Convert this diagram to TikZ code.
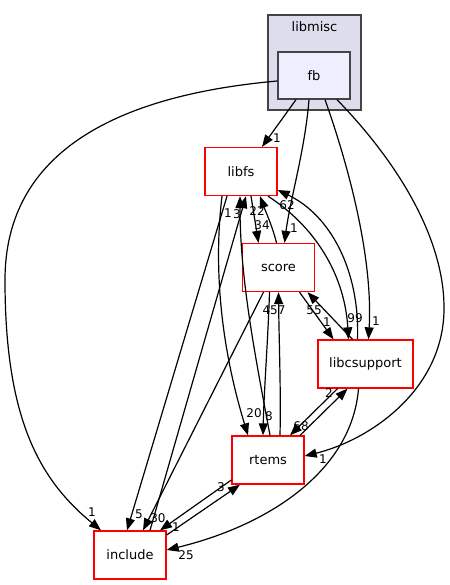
\documentclass[tikz,border=0pt]{standalone}
\usepackage{fontspec}
\setmainfont{DejaVu Sans}
\usetikzlibrary{arrows.meta}
\definecolor{clfill}{HTML}{DDDDEE}
\definecolor{clline}{HTML}{444444}
\definecolor{fbfill}{HTML}{EEEEFF}
\definecolor{dirred}{HTML}{FF0000}
\tikzset{
  dirbox/.style={draw=dirred, line width=1.3pt, fill=white, minimum width=72pt, minimum height=48pt, inner sep=0pt, font=\fontsize{13}{15}\selectfont},
  fbbox/.style={draw=clline, line width=1.3pt, fill=fbfill, minimum width=72pt, minimum height=47pt, inner sep=0pt, font=\fontsize{13}{15}\selectfont},
  dep/.style={line width=1.2pt, -{Triangle[length=12pt,width=9pt]}},
  lbl/.style={inner sep=0pt, font=\fontsize{12}{14}\selectfont}
}
\begin{document}
\begin{tikzpicture}[x=1pt,y=-1pt]
\useasboundingbox (0,0) rectangle (449,585);
% cluster
\node[draw=clline, line width=1.3pt, fill=clfill, minimum width=93pt, minimum height=95pt, inner sep=0pt] (libmisc) at (314.5,62.5) {};
\node[inner sep=0pt, font=\fontsize{13}{15}\selectfont] (libmisclbl) at (314.5,27) {libmisc};
\node[fbbox] (fb) at (314,75.5) {fb};
\node[dirbox] (libfs) at (241,171.5) {libfs};
\node[dirbox] (score) at (278.5,267.5) {score};
\node[dirbox, minimum width=95pt] (libcsupport) at (365.5,364) {libcsupport};
\node[dirbox] (rtems) at (268,460) {rtems};
\node[dirbox] (include) at (130,555) {include};

% fb edges
\draw[dep] ([xshift=-18pt]fb.south) -- ([xshift=21pt]libfs.north);
\draw[dep] ([xshift=-5pt]fb.south) .. controls (305,150) and (290,200) .. ([xshift=6pt]score.north);
\draw[dep] ([xshift=11pt]fb.south) .. controls (350,170) and (373,260) .. ([xshift=3pt]libcsupport.north);
\draw[dep] ([xshift=23pt]fb.south) .. controls (410,175) and (445,250) .. (444,310) .. controls (443,390) and (370,440) .. ([yshift=4pt]rtems.east);
\draw[dep] ([yshift=-5.5pt]fb.west) .. controls (120,95) and (5,150) .. (5,280) .. controls (5,420) and (40,480) .. ([xshift=-29pt]include.north);

% libfs edges
\draw[dep] ([xshift=10pt]libfs.south) -- ([xshift=-20pt]score.north);
\draw[dep] ([xshift=27pt]libfs.south) .. controls (320,230) and (345,280) .. ([xshift=-17pt]libcsupport.north);
\draw[dep] ([xshift=-19pt]libfs.south) .. controls (212,280) and (225,360) .. ([xshift=-20pt]rtems.north);
\draw[dep] ([xshift=-14pt]libfs.south) -- ([xshift=-3pt]include.north);

% score edges
\draw[dep] ([xshift=-2pt]score.north) .. controls (272,225) and (265,210) .. ([xshift=19pt]libfs.south);
\draw[dep] ([xshift=21pt]score.south) -- ([xshift=-32pt]libcsupport.north);
\draw[dep] ([xshift=-9pt]score.south) .. controls (268,340) and (264,390) .. ([xshift=-5pt]rtems.north);
\draw[dep] ([xshift=-15pt]score.south) -- ([xshift=13pt]include.north);

% libcsupport edges
\draw[dep] ([xshift=-8pt]libcsupport.north) .. controls (360,270) and (330,215) .. ([yshift=-18.5pt]libfs.east);
\draw[dep] ([xshift=-13pt]libcsupport.north) -- ([xshift=29pt]score.south);
\draw[dep] ([xshift=-28pt]libcsupport.south) -- ([xshift=22pt]rtems.north);
\draw[dep] ([xshift=-7pt]libcsupport.south) .. controls (352,470) and (270,525) .. ([yshift=5pt]include.east);

% rtems edges
\draw[dep] ([xshift=2pt]rtems.north) .. controls (256,360) and (240,280) .. ([xshift=-1pt]libfs.south);
\draw[dep] ([xshift=12pt]rtems.north) .. controls (281,390) and (279,340) .. ([xshift=0pt]score.south);
\draw[dep] ([xshift=32pt]rtems.north) -- ([xshift=-18pt]libcsupport.south);
\draw[dep] ([yshift=-20pt]rtems.west) -- ([xshift=30pt]include.north);

% include edges
\draw[dep] ([xshift=20pt]include.north) -- ([xshift=5pt]libfs.south);
\draw[dep] ([yshift=20pt]include.east) -- ([xshift=-28pt]rtems.south);

% labels
\node[lbl] (l1) at (277,138) {1};
\node[lbl] (l2) at (294,228) {1};
\node[lbl] (l3) at (376,321) {1};
\node[lbl] (l4) at (323,459) {1};
\node[lbl] (l5) at (92,512) {1};
\node[lbl] (l6) at (262,225) {34};
\node[lbl] (l7) at (355,318) {99};
\node[lbl] (l8) at (254,413) {20};
\node[lbl] (l9) at (139,514) {5};
\node[lbl] (l10) at (257,211) {22};
\node[lbl] (l11) at (327,322) {1};
\node[lbl] (l12) at (269,416) {8};
\node[lbl] (l13) at (158,518) {30};
\node[lbl] (l14) at (287,205) {62};
\node[lbl] (l15) at (314,310) {55};
\node[lbl] (l16) at (301,426) {68};
\node[lbl] (l17) at (186,555) {25};
\node[lbl] (l18) at (228,213) {1};
\node[lbl] (l19) at (274,310) {457};
\node[lbl] (l20) at (329,393) {2};
\node[lbl] (l21) at (176,527) {1};
\node[lbl] (l22) at (237,214) {3};
\node[lbl] (l23) at (221,487) {3};
\end{tikzpicture}
\end{document}
